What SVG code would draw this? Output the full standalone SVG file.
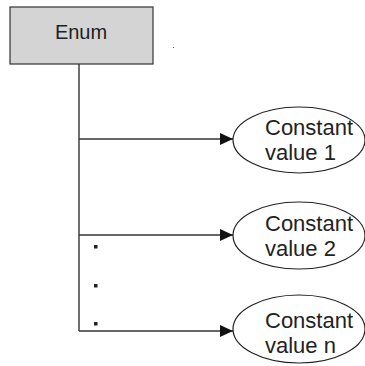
<svg xmlns="http://www.w3.org/2000/svg" width="365" height="366" viewBox="0 0 365 366">
<style>
.node{fill:#fff;stroke:#222;stroke-width:1.2}
.box{fill:#d4d4d4;stroke:#333;stroke-width:1.2}
.t{font-family:"Liberation Sans",Arial,sans-serif;font-size:22px;fill:#222}
.c{stroke:#333;stroke-width:1.4;fill:none}
</style>
<defs>
<marker id="ah" markerWidth="13" markerHeight="12" refX="13" refY="6" orient="auto" markerUnits="userSpaceOnUse">
<path d="M0,0 L13,6 L0,12 Z" fill="#111"/>
</marker>
</defs>
<rect width="365" height="366" fill="#fff"/>
<g id="enum">
<rect class="box" x="10" y="7" width="143" height="57"/>
<text class="t" x="81" y="39" text-anchor="middle" style="font-size:20px">Enum</text>
</g>
<rect x="173" y="47" width="1" height="1" fill="#555"/>
<g id="connectors">
<line class="c" x1="79" y1="64" x2="79" y2="331"/>
<line class="c" x1="79" y1="139" x2="233" y2="139" marker-end="url(#ah)"/>
<line class="c" x1="79" y1="235" x2="233" y2="235" marker-end="url(#ah)"/>
<line class="c" x1="79" y1="331" x2="233" y2="331" marker-end="url(#ah)"/>
</g>
<g id="dots" fill="#222">
<rect x="94" y="245" width="3.5" height="3.5"/>
<rect x="94" y="284" width="3.5" height="3.5"/>
<rect x="94" y="322" width="3.5" height="3.5"/>
</g>
<g id="c1">
<ellipse class="node" cx="299" cy="140" rx="66" ry="33"/>
<text class="t" x="265" y="135">Constant</text>
<text class="t" x="265" y="160">value 1</text>
</g>
<g id="c2">
<ellipse class="node" cx="299" cy="235.5" rx="66" ry="33.5"/>
<text class="t" x="265" y="231">Constant</text>
<text class="t" x="265" y="256">value 2</text>
</g>
<g id="c3">
<ellipse class="node" cx="299" cy="329" rx="66" ry="34"/>
<text class="t" x="265" y="328">Constant</text>
<text class="t" x="265" y="353">value n</text>
</g>
</svg>
